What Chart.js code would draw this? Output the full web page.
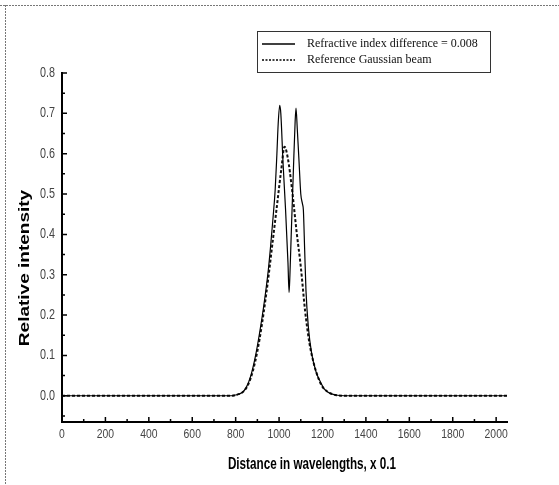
<!DOCTYPE html>
<html>
<head>
<meta charset="utf-8">
<script src="https://cdn.jsdelivr.net/npm/chart.js"></script>
<style>
  html, body { margin: 0; padding: 0; background: #fff; }
  #wrap { width: 559px; height: 485px; }
</style>
</head>
<body>
<div id="wrap"><canvas id="chart" width="559" height="485"></canvas></div>
<script>
// Values (x in 0.1 wavelengths)
const solidX = [0, 200, 400, 600, 780, 800, 830, 850, 870, 890, 910, 930, 950, 960, 972, 982, 990, 996, 1003, 1008, 1018, 1030, 1041, 1046, 1050, 1056, 1066, 1074, 1078, 1084, 1092, 1100, 1108, 1112, 1118, 1124, 1135, 1150, 1170, 1190, 1210, 1235, 1260, 1300, 1600, 2050];
const solidY = [0, 0, 0, 0, 0, 0.002, 0.008, 0.022, 0.05, 0.095, 0.155, 0.225, 0.31, 0.365, 0.44, 0.51, 0.6, 0.675, 0.72, 0.7, 0.58, 0.46, 0.33, 0.256, 0.3, 0.4, 0.56, 0.68, 0.713, 0.66, 0.58, 0.5, 0.475, 0.46, 0.36, 0.26, 0.17, 0.105, 0.06, 0.035, 0.016, 0.006, 0.002, 0, 0, 0];

const gaussX = [0, 200, 400, 600, 780, 800, 830, 850, 870, 890, 910, 930, 950, 970, 990, 1010, 1025, 1040, 1060, 1080, 1100, 1120, 1140, 1160, 1180, 1200, 1230, 1260, 1300, 1600, 2050];
const gaussY = [0, 0, 0, 0, 0, 0.002, 0.008, 0.02, 0.045, 0.085, 0.14, 0.21, 0.29, 0.38, 0.47, 0.56, 0.617, 0.59, 0.51, 0.41, 0.32, 0.21, 0.13, 0.08, 0.045, 0.022, 0.008, 0.002, 0, 0, 0];

const seriesLabels = ['Refractive index difference = 0.008', 'Reference Gaussian beam'];
const xTitle = 'Distance in wavelengths, x 0.1';
const yTitle = 'Relative intensity';
const xTicks = [0, 200, 400, 600, 800, 1000, 1200, 1400, 1600, 1800, 2000];
const yTicks = [0, 0.1, 0.2, 0.3, 0.4, 0.5, 0.6, 0.7, 0.8];

const toPoints = (xs, ys) => xs.map((x, i) => ({ x: x, y: ys[i] }));
const SANS = '"Liberation Sans", Arial, sans-serif';
const SQUEEZE = 0.77; // the scan is squeezed horizontally, so are its glyphs

function squeezedText(ctx, text, x, y) {
    ctx.save();
    ctx.translate(x, y);
    ctx.scale(SQUEEZE, 1);
    ctx.fillText(text, 0, 0);
    ctx.restore();
}

// frame lines of the scanned figure, inward ticks, labels, legend box
const decorPlugin = {
    id: 'decor',
    beforeDraw(chart) {
        const ctx = chart.ctx;
        ctx.save();
        ctx.strokeStyle = '#777';
        ctx.lineWidth = 1;
        ctx.setLineDash([2, 1]);
        ctx.beginPath();
        ctx.moveTo(0, 5.5); ctx.lineTo(559, 5.5);
        ctx.moveTo(5.5, 5); ctx.lineTo(5.5, 485);
        ctx.stroke();
        ctx.restore();
    },
    afterDraw(chart) {
        const ctx = chart.ctx;
        const xs = chart.scales.x, ys = chart.scales.y;
        ctx.save();
        // inward tick marks
        ctx.strokeStyle = '#000';
        ctx.lineWidth = 1.5;
        ctx.beginPath();
        xTicks.forEach((v, i) => {
            const px = xs.getPixelForValue(v);
            ctx.moveTo(px, ys.bottom); ctx.lineTo(px, ys.bottom - 5);
            if (i < xTicks.length - 1) {
                const mx = xs.getPixelForValue((v + xTicks[i + 1]) / 2);
                ctx.moveTo(mx, ys.bottom); ctx.lineTo(mx, ys.bottom - 3);
            }
        });
        yTicks.forEach((v, i) => {
            const py = ys.getPixelForValue(v);
            ctx.moveTo(xs.left, py); ctx.lineTo(xs.left + 5, py);
            const below = i === 0 ? -0.05 : (v + yTicks[i - 1]) / 2;
            const my = ys.getPixelForValue(below);
            ctx.moveTo(xs.left, my); ctx.lineTo(xs.left + 3, my);
        });
        ctx.stroke();

        // tick labels
        ctx.fillStyle = '#444';
        ctx.textBaseline = 'middle';
        ctx.font = '14px ' + SANS;
        ctx.textAlign = 'right';
        yTicks.forEach(v => {
            squeezedText(ctx, v.toFixed(1), xs.left - 7, ys.getPixelForValue(v));
        });
        ctx.font = '13.5px ' + SANS;
        ctx.textAlign = 'center';
        xTicks.forEach(v => {
            squeezedText(ctx, String(v), xs.getPixelForValue(v), ys.bottom + 12);
        });

        // axis titles
        ctx.fillStyle = '#000';
        ctx.font = 'bold 16px ' + SANS;
        ctx.save();
        ctx.translate(312, 465);
        ctx.scale(0.73, 1);
        ctx.fillText(xTitle, 0, 0);
        ctx.restore();
        ctx.save();
        ctx.translate(25, 268);
        ctx.rotate(-Math.PI / 2);
        ctx.scale(1, 0.8);
        ctx.font = 'bold 19px ' + SANS;
        ctx.fillText(yTitle, 0, 0);
        ctx.restore();

        // legend
        ctx.textAlign = 'left';
        ctx.lineWidth = 1;
        ctx.strokeStyle = '#333';
        ctx.strokeRect(257.5, 31.5, 233, 41);
        ctx.lineWidth = 1.5;
        ctx.strokeStyle = '#000';
        ctx.beginPath(); ctx.moveTo(262, 44); ctx.lineTo(295, 44); ctx.stroke();
        ctx.setLineDash([2, 1.5]);
        ctx.beginPath(); ctx.moveTo(262, 60); ctx.lineTo(295, 60); ctx.stroke();
        ctx.setLineDash([]);
        ctx.fillStyle = '#111';
        ctx.font = '12px "Liberation Serif", "Times New Roman", serif';
        ctx.fillText(seriesLabels[0], 307, 44);
        ctx.fillText(seriesLabels[1], 307, 60);
        ctx.restore();
    }
};

new Chart(document.getElementById('chart'), {
    type: 'line',
    data: {
        datasets: [{
            label: seriesLabels[0],
            data: toPoints(solidX, solidY),
            borderColor: '#000',
            borderWidth: 1.2,
            pointRadius: 0,
            cubicInterpolationMode: 'monotone'
        }, {
            label: seriesLabels[1],
            data: toPoints(gaussX, gaussY),
            borderColor: '#111',
            borderWidth: 2,
            borderDash: [3, 2],
            pointRadius: 0,
            cubicInterpolationMode: 'monotone'
        }]
    },
    options: {
        responsive: false,
        animation: false,
        devicePixelRatio: 1,
        layout: { padding: { top: 73, right: 52, left: 0, bottom: 0 } },
        plugins: { legend: { display: false }, tooltip: { enabled: false } },
        scales: {
            x: {
                type: 'linear',
                min: 0,
                max: 2050,
                grid: { display: false, drawTicks: false },
                border: { display: true, width: 2, color: '#000' },
                afterBuildTicks: s => { s.ticks = xTicks.map(v => ({ value: v })); },
                afterFit: s => { s.height = 63; },
                ticks: { display: false }
            },
            y: {
                type: 'linear',
                min: -0.065,
                max: 0.8,
                grid: { display: false, drawTicks: false },
                border: { display: true, width: 2, color: '#000' },
                afterBuildTicks: s => { s.ticks = yTicks.map(v => ({ value: v })); },
                afterFit: s => { s.width = 62; },
                ticks: { display: false }
            }
        }
    },
    plugins: [decorPlugin]
});
</script>
</body>
</html>
